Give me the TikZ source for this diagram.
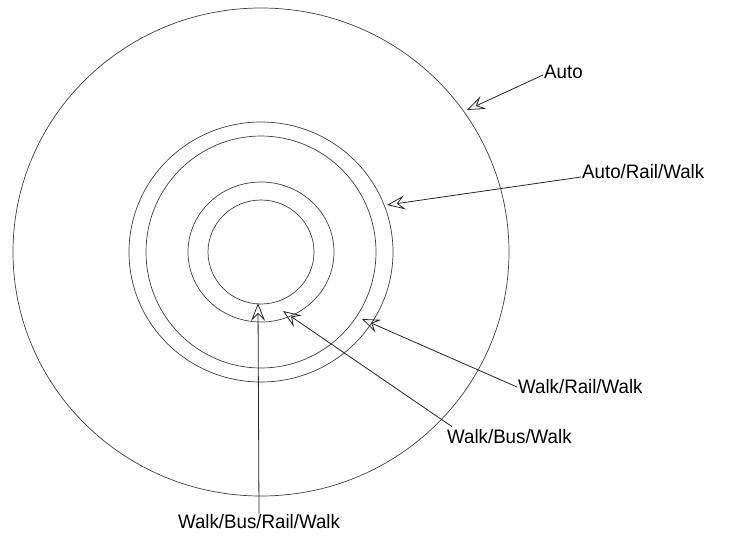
\documentclass[tikz,border=0pt]{standalone}
\usepackage{fontspec}
\setmainfont{Liberation Sans}
\usetikzlibrary{arrows.meta}
\begin{document}
\begin{tikzpicture}[x=1pt,y=-1pt,
  ring/.style={draw=black!75,line width=0.7pt},
  lbl/.style={font=\fontsize{19.5}{22}\selectfont,inner sep=1pt,xscale=0.96},
  leader/.style={draw=black!85,line width=0.8pt,-{Stealth[open,length=18pt,width=14pt,inset=7pt]}}]
\useasboundingbox (0,0) rectangle (740,539);
\coordinate (c) at (261,252);
\draw[ring] (c) ellipse [x radius=248, y radius=244];
\draw[ring] (c) ellipse [x radius=132, y radius=130];
\draw[ring] (c) ellipse [x radius=115, y radius=116];
\draw[ring] (c) ellipse [x radius=73, y radius=70];
\draw[ring] (c) ellipse [x radius=53, y radius=52];
\node[lbl,anchor=west] (auto) at (543,72) {Auto};
\node[lbl,anchor=west] (arw) at (581,172) {Auto/Rail/Walk};
\node[lbl,anchor=west] (wrw) at (517,387) {Walk/Rail/Walk};
\node[lbl,anchor=west] (wbw) at (446,437) {Walk/Bus/Walk};
\node[lbl] (wbrw) at (259,522) {Walk/Bus/Rail/Walk};
\coordinate (tauto) at (467,110);
\coordinate (tarw) at (387,205);
\coordinate (twrw) at (362,319);
\coordinate (twbw) at (283,311);
\coordinate (twbrw) at (258,303);
\draw[leader] ([yshift=-3pt]auto.west) -- (tauto);
\draw[leader] ([yshift=-5pt]arw.west) -- (tarw);
\draw[leader] (wrw.west) -- (twrw);
\draw[leader] ([xshift=6pt,yshift=2pt]wbw.north west) -- (twbw);
\draw[leader] (wbrw.north) -- (twbrw);
\end{tikzpicture}
\end{document}
